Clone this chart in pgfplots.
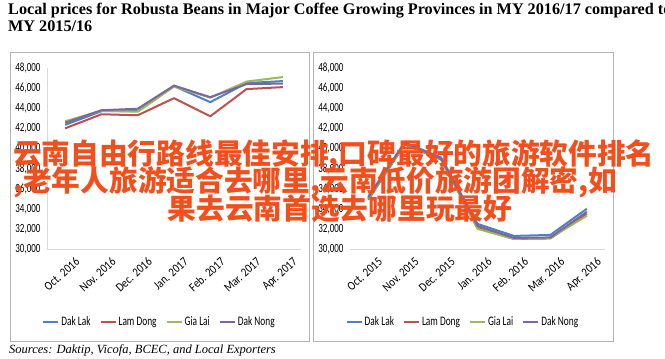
\documentclass[border=0pt]{standalone}
\usepackage{fontspec}
\setmainfont{Liberation Serif}
\newfontfamily\carlito{Carlito}[FakeStretch=0.72]
\newfontfamily\carlitoX{Carlito}[FakeStretch=0.85]
\newfontfamily\cjk{Noto Sans CJK SC}
\usepackage{pgfplots}
\pgfplotsset{compat=1.18}
\definecolor{daklak}{HTML}{4F81BD}
\definecolor{lamdong}{HTML}{C0504D}
\definecolor{gialai}{HTML}{9BBB59}
\definecolor{daknong}{HTML}{8064A2}
\definecolor{ovl}{HTML}{F24F1C}
\definecolor{framec}{HTML}{B4B4B4}
\definecolor{axisl}{HTML}{D9D9D9}
\pgfplotsset{mychart/.style={
  scale only axis, height=181pt,
  xmin=-0.5, xmax=6.5, ymin=30000, ymax=48000,
  ytick={30000,32000,...,48000}, xtick={0,...,6},
  major tick length=0pt,
  axis x line*=bottom, axis y line*=left,
  axis line style={draw=axisl, line width=0.8pt, -},
  yticklabel style={font=\carlito\fontsize{12.5}{13}\selectfont, xshift=-3pt},
  /pgf/number format/1000 sep={,},
  /pgf/number format/assume math mode=true,
  scaled y ticks=false,
  xticklabel style={font=\carlitoX\fontsize{12.5}{13}\selectfont, rotate=42, anchor=north east, inner sep=1pt, yshift=-11pt, xshift=3pt},
  no markers,
  every axis plot/.append style={line width=2pt, line join=round},
  legend columns=4,
  legend style={draw=none, fill=none, font=\carlito\fontsize{13}{13}\selectfont,
    at={(0.443,-0.403)}, anchor=center,
    /tikz/every even column/.append style={column sep=7pt}},
  legend image code/.code={\draw[##1,line width=2pt] (0pt,0pt)--(15pt,0pt);},
}}
\begin{document}
\begin{tikzpicture}
\useasboundingbox (0,0) rectangle (665pt,359pt);
\clip (0,0) rectangle (665pt,359pt);
\fill[white] (0,0) rectangle (665pt,359pt);
% title
\node[anchor=base west, inner sep=0] at (8pt,344pt) {\fontsize{16.2}{18}\selectfont\bfseries Local prices for Robusta Beans in Major Coffee Growing Provinces in MY 2016/17 compared to};
\node[anchor=base west, inner sep=0] at (8pt,327pt) {\fontsize{16.2}{18}\selectfont\bfseries MY 2015/16};
% frames
\draw[framec, line width=0.8pt] (10pt,18pt) rectangle (309pt,307pt);
\draw[framec, line width=0.8pt] (313pt,18pt) rectangle (613pt,307pt);
% left chart
\begin{axis}[mychart, width=254pt, at={(47pt,110pt)}, anchor=south west,
  xticklabels={Oct. 2016, Nov. 2016, Dec. 2016, Jan. 2017, Feb. 2017, Mar. 2017, Apr. 2017}]
\addplot[daklak] coordinates {(0,42350) (1,43700) (2,43700) (3,46200) (4,44600) (5,46500) (6,46700)};
\addlegendentry{Dak Lak}
\addplot[lamdong] coordinates {(0,42000) (1,43400) (2,43300) (3,45000) (4,43200) (5,45900) (6,46100)};
\addlegendentry{Lam Dong}
\addplot[gialai] coordinates {(0,42700) (1,43750) (2,43650) (3,46150) (4,45050) (5,46650) (6,47100)};
\addlegendentry{Gia Lai}
\addplot[daknong] coordinates {(0,42550) (1,43800) (2,43950) (3,46250) (4,45100) (5,46400) (6,46450)};
\addlegendentry{Dak Nong}
\end{axis}
% right chart
\begin{axis}[mychart, width=255pt, at={(350pt,110pt)}, anchor=south west,
  y axis line style={draw=none},
  xticklabels={Oct. 2015, Nov. 2015, Dec. 2015, Jan. 2016, Feb. 2016, Mar. 2016, Apr. 2016}]
\addplot[daklak] coordinates {(0,35200) (1,40600) (2,39100) (3,32500) (4,31300) (5,31400) (6,34000)};
\addlegendentry{Dak Lak}
\addplot[lamdong] coordinates {(0,34900) (1,40400) (2,38900) (3,32100) (4,31000) (5,31050) (6,33500)};
\addlegendentry{Lam Dong}
\addplot[gialai] coordinates {(0,35000) (1,40450) (2,38950) (3,32000) (4,31000) (5,31100) (6,33300)};
\addlegendentry{Gia Lai}
\addplot[daknong] coordinates {(0,35100) (1,40550) (2,39000) (3,32300) (4,31100) (5,31150) (6,33700)};
\addlegendentry{Dak Nong}
\end{axis}
% source
\node[anchor=base west, inner sep=0] at (9pt,5pt) {\fontsize{12.5}{14}\selectfont\itshape Sources: Daktip, Vicofa, BCEC, and Local Exporters};
% overlay text
\begin{scope}[every node/.style={inner sep=0, text=ovl, font=\cjk\bfseries\fontsize{28.7}{30}\selectfont}]
\node[anchor=base west] at (13pt,194pt) {云南自由行路线最佳安排,口碑最好的旅游软件排名};
\node[anchor=base west] at (13pt,167pt) {,老年人旅游适合去哪里,云南低价旅游团解密,如};
\node[anchor=base] at (340pt,139pt) {果去云南首选去哪里玩最好};
\end{scope}
\end{tikzpicture}
\end{document}
